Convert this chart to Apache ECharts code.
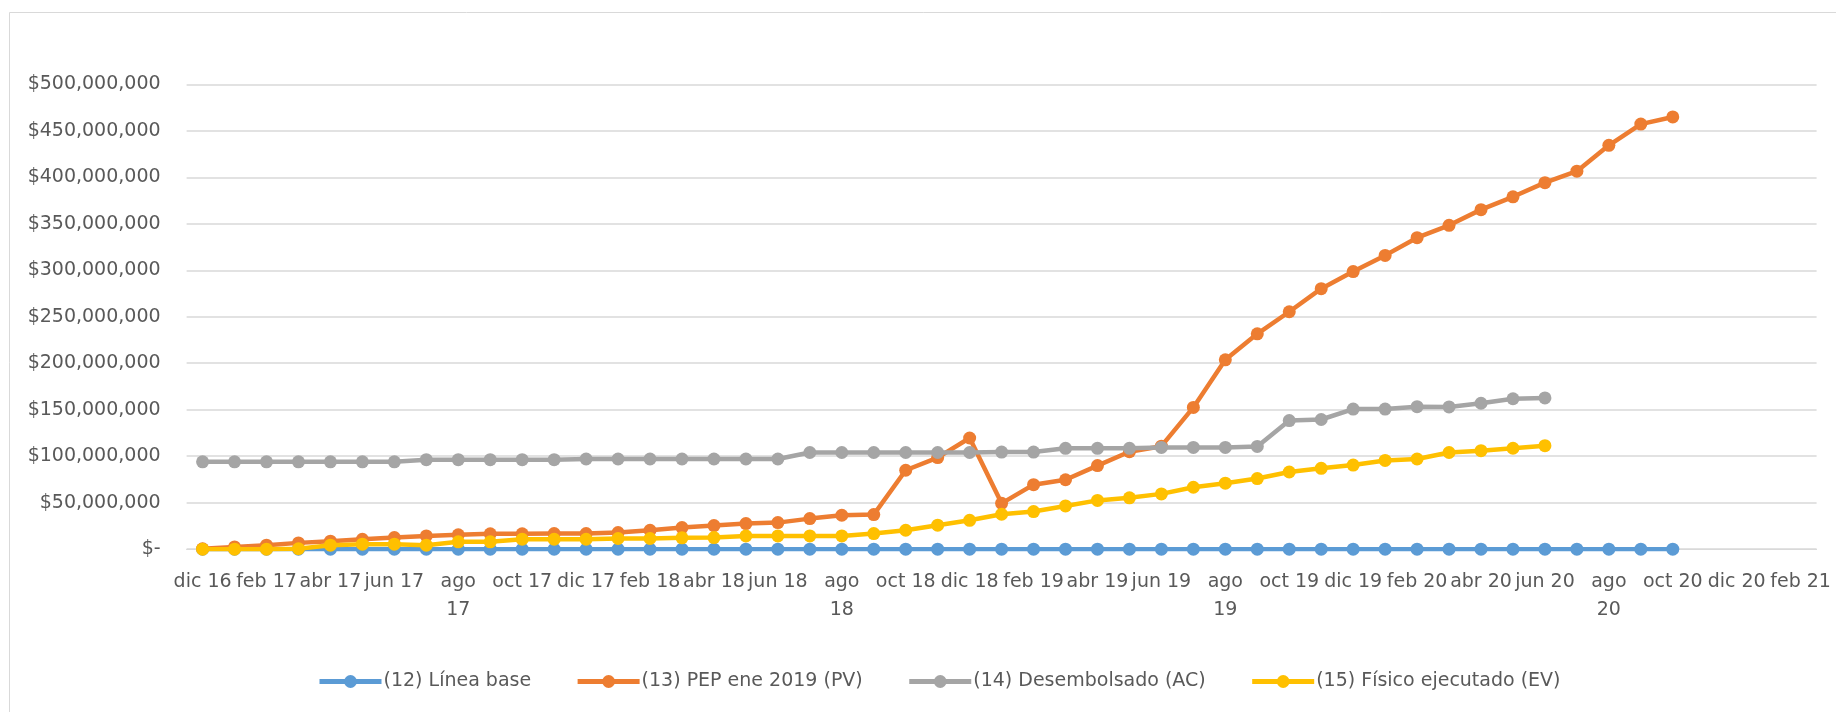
<!DOCTYPE html>
<html>
<head>
<meta charset="utf-8">
<script src="https://cdn.jsdelivr.net/npm/echarts@6/dist/echarts.min.js"></script>
<style>
html,body{margin:0;padding:0;background:#fff;}
#chart{width:1836px;height:712px;}
</style>
</head>
<body>
<div id="chart"></div>
<script>
const categories = [
  'dic 16','ene 17','feb 17','mar 17','abr 17','may 17','jun 17','jul 17','ago 17','sep 17','oct 17','nov 17',
  'dic 17','ene 18','feb 18','mar 18','abr 18','may 18','jun 18','jul 18','ago 18','sep 18','oct 18','nov 18',
  'dic 18','ene 19','feb 19','mar 19','abr 19','may 19','jun 19','jul 19','ago 19','sep 19','oct 19','nov 19',
  'dic 19','ene 20','feb 20','mar 20','abr 20','may 20','jun 20','jul 20','ago 20','sep 20','oct 20','nov 20',
  'dic 20','ene 21','feb 21'
];

const seriesNames = ['(12) Línea base', '(13) PEP ene 2019 (PV)', '(14) Desembolsado (AC)', '(15) Físico ejecutado (EV)'];

// values in millions of pesos
const lineaBase = [
  0,0,0,0,0,0,0,0,0,0,0,0,
  0,0,0,0,0,0,0,0,0,0,0,0,
  0,0,0,0,0,0,0,0,0,0,0,0,
  0,0,0,0,0,0,0,0,0,0,0
];
const pepPV = [
  0.5,2.5,4.3,6.8,8.6,10.7,12.5,14.3,15.5,16.5,16.5,16.8,
  16.8,17.9,20.4,23.3,25.4,27.6,28.6,32.9,36.5,37.2,84.9,98.5,
  119.6,49.3,69.4,74.7,89.9,104.8,110.8,152.5,203.7,231.6,255.4,280.2,
  298.6,316,335,348.3,365.2,379,394.2,406.6,434.4,457.2,464.9
];
const desembolsadoAC = [
  94,94,94,94,94,94,94,96.3,96.3,96.3,96.3,96.3,
  97,97,97,97,97,97,97,104,104,104,104,104,
  104,104.5,104.5,108.5,108.5,108.5,109.5,109.5,109.5,110.5,138.3,139.5,
  150.7,150.7,153.3,153,157,161.8,162.7
];
const fisicoEV = [
  0,0,0,0.5,4.3,5.4,5.4,4.3,7.9,7.9,10.7,10.7,
  10.7,11.5,11.5,12.2,12.5,14.3,14.3,14.3,14.3,16.8,20.4,25.8,
  31.1,37.6,40.5,46.5,52.5,55.3,59.5,66.6,71,76,83,87,
  90.5,95.5,97,104,106,108.6,111.3
];

const yTicks = { min: 0, max: 500000000, interval: 50000000 };
const colors = ['#5B9BD5', '#ED7D31', '#A5A5A5', '#FFC000'];

const toPesos = arr => arr.map(v => v * 1000000);
const dataSets = [lineaBase, pepPV, desembolsadoAC, fisicoEV];

const FONT = 'DejaVu Sans';
const chart = echarts.init(document.getElementById('chart'), null, {renderer: 'canvas'});

chart.setOption({
  animation: false,
  backgroundColor: '#ffffff',
  color: colors,
  graphic: [{
    type: 'rect',
    shape: {x: 9.5, y: 12.5, width: 1900, height: 1000},
    style: {fill: 'none', stroke: '#d9d9d9', lineWidth: 1},
    silent: true, z: -10
  }],
  grid: {left: 186.6, right: 19.4, top: 84.3, bottom: 162.8, containLabel: false},
  legend: {
    left: 312, top: 667,
    itemWidth: 62, itemHeight: 16, itemGap: 44,
    lineStyle: {width: 5},
    textStyle: {fontFamily: FONT, fontSize: 19, color: '#595959', padding: [0, 0, 0, -3]},
    data: seriesNames
  },
  xAxis: {
    type: 'category',
    data: categories,
    boundaryGap: true,
    axisLine: {show: true, lineStyle: {color: '#d9d9d9', width: 1}},
    axisTick: {show: false},
    axisLabel: {
      interval: 1,
      margin: 19,
      fontFamily: FONT, fontSize: 19, color: '#595959', lineHeight: 28,
      formatter: v => v.replace(/^ago /, 'ago\n')
    },
    splitLine: {show: false}
  },
  yAxis: {
    type: 'value',
    min: yTicks.min, max: yTicks.max, interval: yTicks.interval,
    axisLine: {show: false},
    axisTick: {show: false},
    axisLabel: {
      margin: 26,
      fontFamily: FONT, fontSize: 19, color: '#595959',
      formatter: v => v === 0 ? '$-' : '$' + v.toLocaleString('en-US')
    },
    splitLine: {lineStyle: {color: '#d9d9d9', width: 1.5}}
  },
  series: dataSets.map((d, i) => ({
    name: seriesNames[i],
    type: 'line',
    data: toPesos(d),
    symbol: 'circle',
    symbolSize: 13,
    lineStyle: {width: 4.5, color: colors[i]},
    itemStyle: {color: colors[i]},
    z: 2 + i
  }))
});
</script>
</body>
</html>
